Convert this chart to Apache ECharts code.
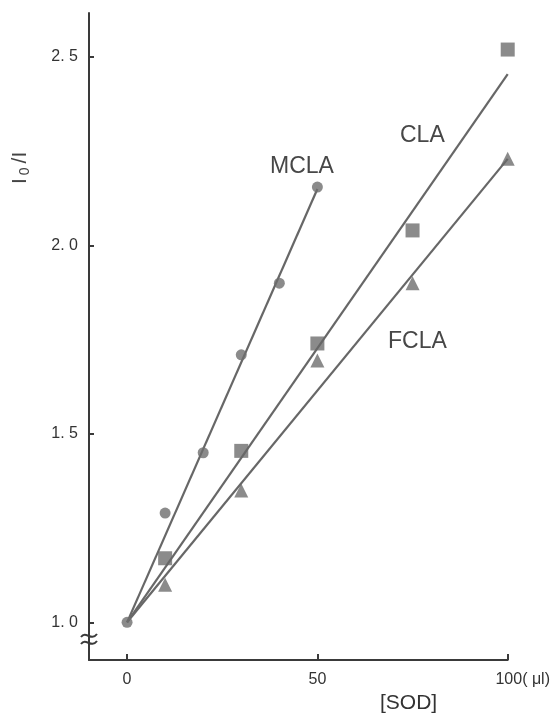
<!DOCTYPE html>
<html>
<head>
<meta charset="utf-8">
<script src="https://cdn.jsdelivr.net/npm/echarts@6/dist/echarts.min.js"></script>
<style>html,body{margin:0;padding:0;background:#fff;}#c{width:553px;height:715px;}</style>
</head>
<body>
<div id="c"></div>
<script>
// Data
const xTicks = [0, 50, 100];
const yTicks = [1.0, 1.5, 2.0, 2.5];

const mclaPoints = [[0, 1.0], [10, 1.29], [20, 1.45], [30, 1.71], [40, 1.90], [50, 2.155]];
const claPoints = [[10, 1.17], [30, 1.455], [50, 1.74], [75, 2.04], [100, 2.52]];
const fclaPoints = [[10, 1.10], [30, 1.35], [50, 1.695], [75, 1.90], [100, 2.23]];

const mclaFit = [[0, 1.0], [50, 2.15]];
const claFit = [[0, 1.0], [100, 2.455]];
const fclaFit = [[0, 1.0], [100, 2.23]];

const markColor = '#6e6e6e';
const lineColor = '#676767';
const axisColor = '#3a3a3a';
const font = '"Liberation Sans", Arial, sans-serif';

const chart = echarts.init(document.getElementById('c'));

function fitLine(name, data) {
  return {
    name: name, type: 'line', data: data, symbol: 'none', z: 3,
    lineStyle: { color: lineColor, width: 2.2 }, silent: true, animation: false
  };
}
function pts(name, data, symbol, size, z) {
  return {
    name: name, type: 'scatter', data: data, symbol: symbol, symbolSize: size, z: z,
    itemStyle: { color: markColor }, silent: true, animation: false
  };
}

chart.setOption({
  animation: false,
  backgroundColor: '#fff',
  grid: { left: 89, right: 44, top: 13, bottom: 55 },
  xAxis: {
    type: 'value', min: -10, max: 100,
    splitLine: { show: false },
    axisLine: { show: true, onZero: false, lineStyle: { color: axisColor, width: 2 } },
    axisTick: { show: true, inside: true, length: 6, customValues: xTicks, lineStyle: { color: axisColor, width: 2 } },
    axisLabel: {
      customValues: xTicks, margin: 12, color: '#333', fontFamily: font, fontSize: 16,
      formatter: function (v) { return v === 100 ? '{u|100( μl)}' : String(v); },
      rich: { u: { fontFamily: font, fontSize: 16, color: '#333', padding: [0, 0, 0, 30] } }
    }
  },
  yAxis: {
    type: 'value', min: 0.9, max: 2.617,
    splitLine: { show: false },
    axisLine: { show: true, onZero: false, lineStyle: { color: axisColor, width: 2 } },
    axisTick: { show: true, inside: true, length: 5, customValues: yTicks, lineStyle: { color: axisColor, width: 2 } },
    axisLabel: {
      customValues: yTicks, margin: 11, color: '#333', fontFamily: font, fontSize: 16,
      formatter: function (v) { return v.toFixed(1).replace('.', '. '); }
    }
  },
  series: [
    fitLine('MCLA fit', mclaFit),
    fitLine('CLA fit', claFit),
    fitLine('FCLA fit', fclaFit),
    pts('CLA', claPoints, 'rect', 14, 2),
    pts('FCLA', fclaPoints, 'triangle', 14, 2),
    pts('MCLA', mclaPoints, 'circle', 11, 4)
  ],
  graphic: [
    { type: 'text', x: 270, y: 167, style: { text: 'MCLA', font: '23px ' + font, fill: '#474747', textVerticalAlign: 'middle' } },
    { type: 'text', x: 400, y: 136, style: { text: 'CLA', font: '23px ' + font, fill: '#474747', textVerticalAlign: 'middle' } },
    { type: 'text', x: 388, y: 342, style: { text: 'FCLA', font: '23px ' + font, fill: '#474747', textVerticalAlign: 'middle' } },
    { type: 'text', x: 380, y: 703, style: { text: '[SOD]', font: '21px ' + font, fill: '#333', textVerticalAlign: 'middle' } },
    { type: 'bezierCurve', z: 10, shape: { x1: 81, y1: 637, cpx1: 86, cpy1: 630, cpx2: 91, cpy2: 642, x2: 97, y2: 634 }, style: { stroke: axisColor, lineWidth: 2, fill: null } },
    { type: 'bezierCurve', z: 10, shape: { x1: 81, y1: 644, cpx1: 86, cpy1: 637, cpx2: 91, cpy2: 649, x2: 97, y2: 641 }, style: { stroke: axisColor, lineWidth: 2, fill: null } },
    {
      type: 'text', x: 9, y: 186, rotation: Math.PI / 2,
      style: {
        text: '{a|I}{s|0}{a|/I}',
        rich: {
          a: { font: '21px ' + font, fill: '#444', padding: [0, 2, 0, 2] },
          s: { font: '14px ' + font, fill: '#444', padding: [9, 2, 0, 1] }
        }
      }
    }
  ]
});
</script>
</body>
</html>
